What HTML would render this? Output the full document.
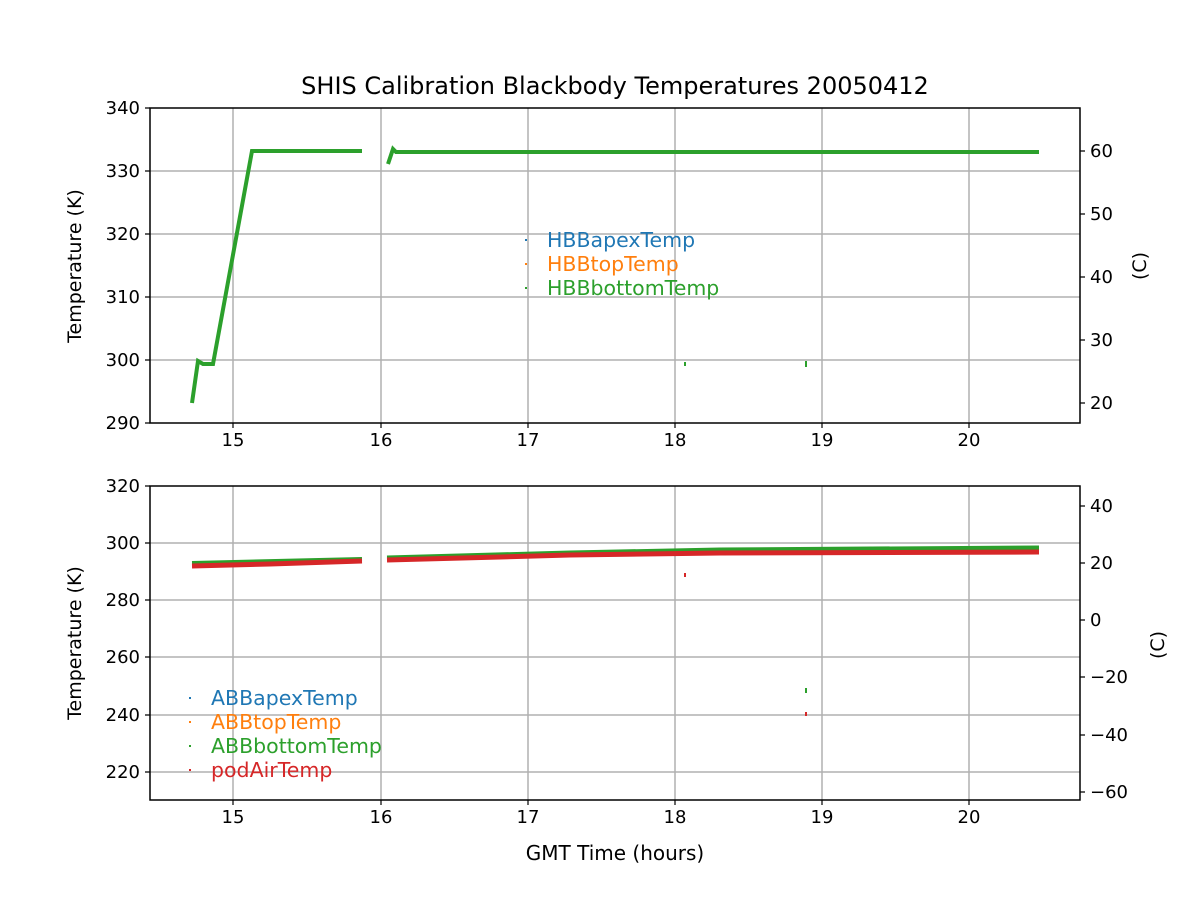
<!DOCTYPE html>
<html><head><style>body{margin:0;background:#fff}svg{display:block;font-family:"DejaVu Sans","Liberation Sans",sans-serif}</style></head>
<body>
<svg width="1200" height="900" viewBox="0 0 1200 900">
<rect width="1200" height="900" fill="#fff"/>
<g stroke="#b0b0b0" stroke-width="1.5">
<line x1="233" y1="108" x2="233" y2="423"/><line x1="381" y1="108" x2="381" y2="423"/><line x1="528" y1="108" x2="528" y2="423"/><line x1="675" y1="108" x2="675" y2="423"/><line x1="822" y1="108" x2="822" y2="423"/><line x1="969" y1="108" x2="969" y2="423"/>
<line x1="150" y1="171" x2="1080" y2="171"/><line x1="150" y1="234" x2="1080" y2="234"/><line x1="150" y1="297" x2="1080" y2="297"/><line x1="150" y1="360" x2="1080" y2="360"/>
<line x1="233" y1="486" x2="233" y2="800"/><line x1="381" y1="486" x2="381" y2="800"/><line x1="528" y1="486" x2="528" y2="800"/><line x1="675" y1="486" x2="675" y2="800"/><line x1="822" y1="486" x2="822" y2="800"/><line x1="969" y1="486" x2="969" y2="800"/>
<line x1="150" y1="543" x2="1080" y2="543"/><line x1="150" y1="600" x2="1080" y2="600"/><line x1="150" y1="657" x2="1080" y2="657"/><line x1="150" y1="715" x2="1080" y2="715"/><line x1="150" y1="772" x2="1080" y2="772"/>
</g>
<!-- top data -->
<polyline points="192,403 198,361 203,364 213,364 252,151 362,151" fill="none" stroke="#2ca02c" stroke-width="4"/>
<polyline points="388,164 393,149 396,152 1039,152" fill="none" stroke="#2ca02c" stroke-width="4"/>
<line x1="685" y1="362" x2="685" y2="366" stroke="#2ca02c" stroke-width="2"/>
<line x1="806" y1="361" x2="806" y2="367" stroke="#2ca02c" stroke-width="2"/>
<!-- bottom data -->
<polyline points="192,563 362,559" fill="none" stroke="#2ca02c" stroke-width="4"/>
<polyline points="387,558 570,553 720,550 1039,548" fill="none" stroke="#2ca02c" stroke-width="5"/>
<polyline points="192,566 270,564 362,561" fill="none" stroke="#d62728" stroke-width="5"/>
<polyline points="387,560 500,557 570,555 720,553 1039,552" fill="none" stroke="#d62728" stroke-width="5"/>
<line x1="685" y1="573" x2="685" y2="577" stroke="#d62728" stroke-width="2"/>
<line x1="806" y1="688" x2="806" y2="693" stroke="#2ca02c" stroke-width="2"/>
<line x1="806" y1="712" x2="806" y2="716" stroke="#d62728" stroke-width="2"/>
<g fill="none" stroke="#000" stroke-width="1.5">
<rect x="150" y="108" width="930" height="315"/><rect x="150" y="486" width="930" height="314"/>
</g>
<g stroke="#000" stroke-width="1.2">
<path d="M233,423v5M381,423v5M528,423v5M675,423v5M822,423v5M969,423v5"/>
<path d="M233,800v5M381,800v5M528,800v5M675,800v5M822,800v5M969,800v5"/>
<path d="M150,108h-5M150,171h-5M150,234h-5M150,297h-5M150,360h-5M150,423h-5"/>
<path d="M150,486h-5M150,543h-5M150,600h-5M150,657h-5M150,715h-5M150,772h-5"/>
<path d="M1080,151h5M1080,214h5M1080,277h5M1080,340h5M1080,403h5"/>
<path d="M1080,506h5M1080,563h5M1080,620h5M1080,677h5M1080,735h5M1080,792h5"/>
</g>
<g font-size="18" fill="#000">
<g text-anchor="middle">
<text x="233" y="446">15</text><text x="381" y="446">16</text><text x="528" y="446">17</text><text x="675" y="446">18</text><text x="822" y="446">19</text><text x="969" y="446">20</text>
<text x="233" y="823">15</text><text x="381" y="823">16</text><text x="528" y="823">17</text><text x="675" y="823">18</text><text x="822" y="823">19</text><text x="969" y="823">20</text>
<text x="615" y="860" font-size="20">GMT Time (hours)</text>
<text x="615" y="94" font-size="24">SHIS Calibration Blackbody Temperatures 20050412</text>
</g>
<g text-anchor="end">
<text x="140" y="114">340</text><text x="140" y="177">330</text><text x="140" y="240">320</text><text x="140" y="303">310</text><text x="140" y="366">300</text><text x="140" y="429">290</text>
<text x="140" y="492">320</text><text x="140" y="549">300</text><text x="140" y="606">280</text><text x="140" y="663">260</text><text x="140" y="721">240</text><text x="140" y="778">220</text>
</g>
<g>
<text x="1090" y="157">60</text><text x="1090" y="220">50</text><text x="1090" y="283">40</text><text x="1090" y="346">30</text><text x="1090" y="409">20</text>
<text x="1090" y="512">40</text><text x="1090" y="569">20</text><text x="1090" y="626">0</text><text x="1090" y="683">−20</text><text x="1090" y="741">−40</text><text x="1090" y="798">−60</text>
</g>
<text transform="translate(81,266) rotate(-90)" text-anchor="middle" font-size="19">Temperature (K)</text>
<text transform="translate(81,643) rotate(-90)" text-anchor="middle" font-size="19">Temperature (K)</text>
<text transform="translate(1146,266) rotate(-90)" text-anchor="middle" font-size="19">(C)</text>
<text transform="translate(1164,645) rotate(-90)" text-anchor="middle" font-size="19">(C)</text>
</g>
<g font-size="20.5">
<rect x="525" y="239" width="2" height="2" fill="#1f77b4"/><text x="547" y="247" fill="#1f77b4">HBBapexTemp</text>
<rect x="525" y="263" width="2" height="2" fill="#ff7f0e"/><text x="547" y="271" fill="#ff7f0e">HBBtopTemp</text>
<rect x="525" y="287" width="2" height="2" fill="#2ca02c"/><text x="547" y="295" fill="#2ca02c">HBBbottomTemp</text>
<rect x="189" y="697" width="2" height="2" fill="#1f77b4"/><text x="211" y="705" fill="#1f77b4">ABBapexTemp</text>
<rect x="189" y="721" width="2" height="2" fill="#ff7f0e"/><text x="211" y="729" fill="#ff7f0e">ABBtopTemp</text>
<rect x="189" y="745" width="2" height="2" fill="#2ca02c"/><text x="211" y="753" fill="#2ca02c">ABBbottomTemp</text>
<rect x="189" y="769" width="2" height="2" fill="#d62728"/><text x="211" y="777" fill="#d62728">podAirTemp</text>
</g>
</svg>
</body></html>
